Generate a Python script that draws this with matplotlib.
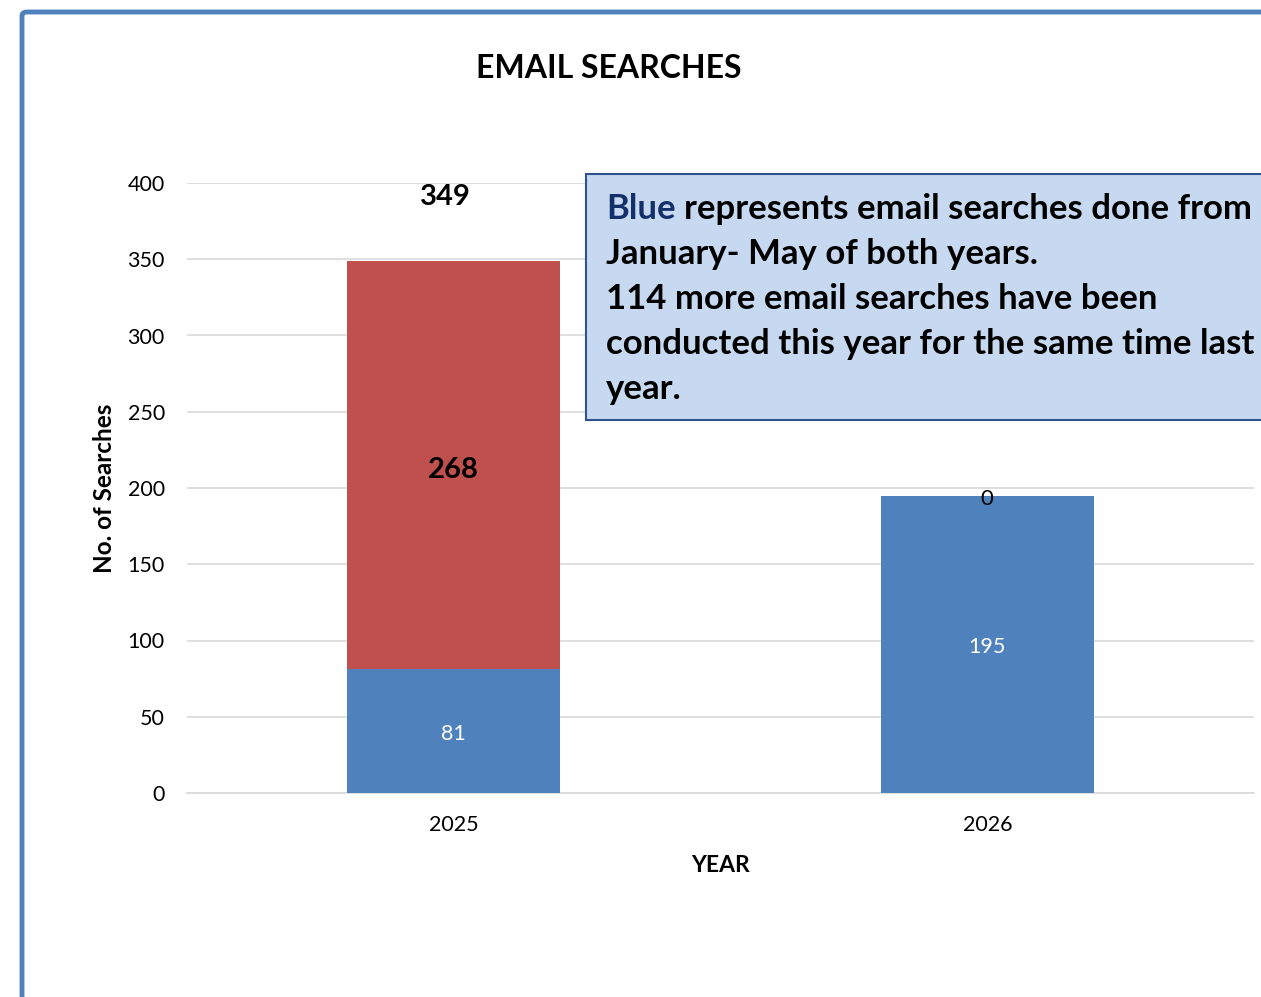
import matplotlib.pyplot as plt
from matplotlib.patches import FancyBboxPatch, Rectangle

plt.rcParams['font.family'] = ['Lato', 'DejaVu Sans']

years = ['2025', '2026']
jan_may = [81, 195]
rest_of_year = [268, 0]
totals = [349, None]

blue = '#4F81BD'
red = '#C0504D'

fig = plt.figure(figsize=(12.61, 9.97), dpi=100)

# outer frame (blue, only left and top visible)
frame = FancyBboxPatch((22 / 1261, -0.05), 1.1, 1 - 12 / 997 + 0.05,
                       boxstyle='round,pad=0,rounding_size=0.004',
                       transform=fig.transFigure, fill=False,
                       edgecolor=blue, linewidth=3.5, clip_on=False)
fig.patches.append(frame)

ax = fig.add_axes([187 / 1261, 1 - 793 / 997, 1067 / 1261, 610 / 997])
x = range(len(years))
width = 0.40
ax.bar(x, jan_may, width, color=blue, zorder=3)
ax.bar(x, rest_of_year, width, bottom=jan_may, color=red, zorder=3)

for i in x:
    ax.text(i, jan_may[i] / 2 - 2, str(jan_may[i]), ha='center', va='center',
            color='white', fontsize=15.5, zorder=4)
    if rest_of_year[i] > 0:
        ax.text(i, jan_may[i] + rest_of_year[i] / 2 - 3, str(rest_of_year[i]),
                ha='center', va='center', fontsize=21, fontweight='bold', zorder=4)
    else:
        ax.text(i, jan_may[i] - 2, str(rest_of_year[i]), ha='center', va='center',
                fontsize=16, zorder=4)
    if totals[i] is not None:
        ax.text(i - 0.015, 391, str(totals[i]), ha='center', va='center',
                fontsize=21, fontweight='bold', zorder=4)

ax.set_xlim(-0.5, 1.5)
ax.set_ylim(0, 400)
ax.set_yticks(range(0, 401, 50))
ax.set_xticks(list(x))
ax.set_xticklabels(years)
ax.tick_params(axis='both', length=0, labelsize=15.5, colors='#000000')
ax.tick_params(axis='y', pad=16)
ax.tick_params(axis='x', pad=16)
ax.grid(axis='y', color='#D9D9D9', linewidth=1.2, zorder=0)
for s in ['top', 'right', 'left']:
    ax.spines[s].set_visible(False)
ax.spines['bottom'].set_color('#D9D9D9')
ax.spines['bottom'].set_linewidth(1.2)

ax.set_ylabel('No. of Searches', fontsize=17.5, fontweight='bold', labelpad=8)
ax.set_xlabel('YEAR', fontsize=16.5, fontweight='bold', labelpad=14)

fig.text(609 / 1261, 1 - 68 / 997, 'EMAIL SEARCHES', ha='center', va='center',
         fontsize=23, fontweight='bold')

# annotation box
box = Rectangle((586 / 1261, 1 - 420 / 997), 0.6, 246 / 997,
                transform=fig.transFigure, facecolor='#C6D9F0',
                edgecolor='#2F528F', linewidth=1.5, zorder=5)
fig.patches.append(box)

fs = 25
lines = [
    'represents email searches done from',
    'January- May of both years.',
    '114 more email searches have been',
    'conducted this year for the same time last',
    'year.',
]
x0 = 606 / 1261
y_first = 1 - 209 / 997
step = 45 / 997
t = fig.text(x0, y_first, 'Blue', color='#14306B', fontsize=fs,
             fontweight='bold', va='center', ha='left', zorder=6)
fig.canvas.draw()
bb = t.get_window_extent()
fig.text(bb.x1 / 1261 + 0.007, y_first, lines[0], fontsize=fs,
         fontweight='bold', va='center', ha='left', zorder=6)
for k, ln in enumerate(lines[1:], start=1):
    fig.text(x0, y_first - k * step, ln, fontsize=fs, fontweight='bold',
             va='center', ha='left', zorder=6)

fig.savefig('out.png', dpi=100)
